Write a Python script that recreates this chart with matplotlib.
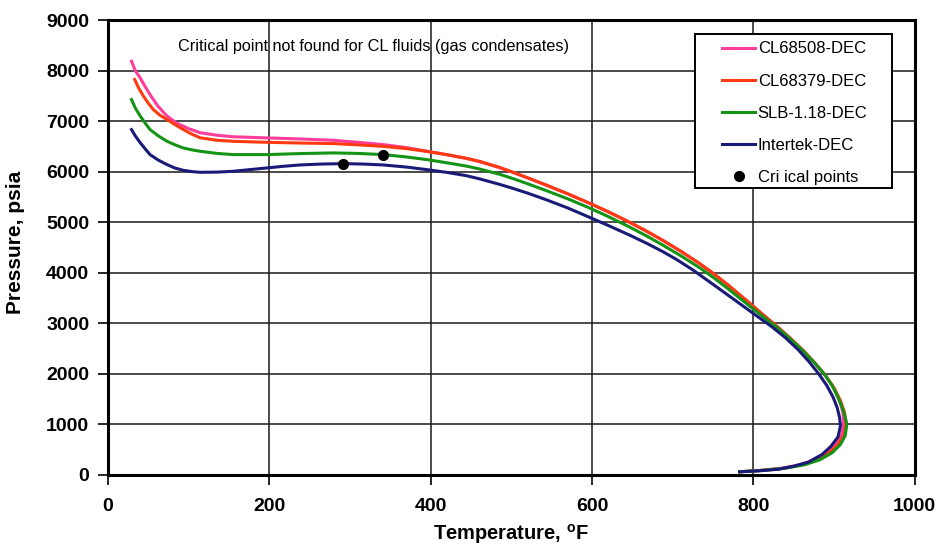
import matplotlib.pyplot as plt
from matplotlib.patches import Rectangle

plt.rcParams['font.family'] = ['Liberation Sans', 'DejaVu Sans']
plt.rcParams['mathtext.fontset'] = 'custom'
plt.rcParams['mathtext.rm'] = 'Liberation Sans'
plt.rcParams['mathtext.bf'] = 'Liberation Sans:bold'

# phase envelopes: temperature (F), pressure (psia)
cl68508_t = [29, 34, 40, 46, 52, 62, 73, 85, 100, 114, 135, 155, 197, 240, 279, 310, 341, 370, 395, 420,
             444, 461, 486, 502, 520, 543, 570, 597, 620, 646, 668, 688, 710, 733, 752, 770, 795, 812,
             830, 846, 862, 876, 889, 900, 907, 911, 912, 910, 903, 893, 877, 858, 835, 810, 783]
cl68508_p = [8185, 7990, 7850, 7680, 7525, 7290, 7100, 6960, 6850, 6770, 6720, 6690, 6667, 6645, 6620, 6580, 6535, 6475, 6405, 6335,
             6262, 6197, 6077, 5985, 5876, 5733, 5558, 5372, 5204, 5001, 4816, 4636, 4423, 4184, 3964, 3737, 3402, 3167,
             2927, 2697, 2457, 2217, 1972, 1717, 1467, 1240, 1020, 820, 620, 450, 300, 200, 130, 90, 60]

cl68379_t = [33, 38, 44, 50, 56, 64, 73, 83, 93, 104, 114, 135, 155, 197, 240, 279, 310, 341, 370, 395, 420,
             444, 461, 486, 502, 520, 543, 570, 597, 620, 646, 668, 688, 710, 733, 752, 770, 795, 812,
             830, 846, 862, 876, 889, 900, 908, 913, 915, 913, 905, 894, 877, 858, 835, 810, 783]
cl68379_p = [7822, 7650, 7490, 7350, 7230, 7120, 7030, 6930, 6835, 6740, 6670, 6620, 6600, 6580, 6565, 6555, 6530, 6500, 6455, 6400, 6335,
             6265, 6200, 6080, 5987, 5879, 5736, 5561, 5375, 5207, 5004, 4819, 4639, 4426, 4187, 3967, 3740, 3405, 3170,
             2930, 2700, 2460, 2220, 1975, 1720, 1470, 1240, 1020, 800, 600, 430, 290, 190, 125, 85, 60]

slb_t = [29, 34, 40, 46, 52, 62, 73, 83, 93, 104, 114, 135, 155, 197, 238, 279, 310, 341, 370, 395, 420,
         444, 461, 486, 502, 520, 543, 570, 597, 620, 646, 668, 688, 710, 733, 752, 770, 795, 812,
         829, 845, 860, 875, 889, 898, 905, 911, 914, 916, 914, 908, 898, 883, 864, 839, 812, 783]
slb_p = [7426, 7250, 7096, 6960, 6832, 6710, 6601, 6530, 6469, 6430, 6403, 6360, 6337, 6337, 6357, 6370, 6360, 6337, 6290, 6238, 6175,
         6110, 6050, 5945, 5862, 5761, 5626, 5461, 5280, 5112, 4909, 4724, 4544, 4336, 4102, 3887, 3665, 3345, 3130,
         2920, 2700, 2480, 2230, 1975, 1760, 1533, 1300, 1133, 1000, 780, 600, 440, 300, 200, 130, 90, 60]

intertek_t = [29, 34, 40, 46, 52, 62, 73, 83, 93, 104, 114, 135, 155, 176, 197, 217, 238, 265, 291, 316, 341, 370, 395, 420,
              444, 461, 486, 502, 520, 543, 570, 597, 620, 646, 668, 688, 705, 725, 750, 770, 799, 823,
              840, 856, 869, 881, 891, 899, 904, 907, 908, 905, 896, 885, 868, 850, 831, 808, 783]
intertek_p = [6832, 6700, 6568, 6450, 6337, 6230, 6139, 6070, 6027, 6000, 5987, 5990, 6007, 6040, 6073, 6105, 6132, 6150, 6158, 6150, 6132, 6090, 6040, 5985,
              5920, 5855, 5745, 5668, 5575, 5445, 5280, 5095, 4935, 4748, 4580, 4415, 4260, 4055, 3770, 3540, 3205, 2930,
              2710, 2470, 2240, 2000, 1770, 1533, 1330, 1133, 967, 750, 560, 400, 250, 170, 110, 80, 60]

# critical points
crit_t = [291, 341]
crit_p = [6158, 6337]

fig, ax = plt.subplots(figsize=(9.4, 5.56), dpi=100)
fig.subplots_adjust(left=0.115, right=0.973, top=0.964, bottom=0.146)

ax.plot(cl68508_t, cl68508_p, color='#ff3d9a', linewidth=2.2, label='CL68508-DEC')
ax.plot(cl68379_t, cl68379_p, color='#ff3a10', linewidth=2.2, label='CL68379-DEC')
ax.plot(slb_t, slb_p, color='#149414', linewidth=2.2, label='SLB-1.18-DEC')
ax.plot(intertek_t, intertek_p, color='#1a1a78', linewidth=2.2, label='Intertek-DEC')
ax.plot(crit_t, crit_p, 'o', color='black', markersize=7, label='Cri ical points', zorder=5)

ax.set_xlim(0, 1000)
ax.set_ylim(0, 9000)
ax.set_xticks(range(0, 1001, 200))
ax.set_yticks(range(0, 9001, 1000))
ax.grid(True, color='#1a1a1a', linewidth=1.1)
for s in ax.spines.values():
    s.set_linewidth(2.2)
ax.tick_params(direction='out', length=7, width=1.2, labelsize=14)
ax.tick_params(axis='x', pad=10)
ax.tick_params(axis='y', pad=6.5)
for lbl in ax.get_xticklabels() + ax.get_yticklabels():
    lbl.set_fontweight('bold')

ax.set_xlabel('Temperature, $^{\\mathbf{o}}$F', fontsize=14.5, fontweight='bold')
ax.set_ylabel('Pressure, psia', fontsize=15, fontweight='bold')
ax.xaxis.set_label_coords(0.5, -0.104)
ax.yaxis.set_label_coords(-0.103, 0.51)

ax.text(0.0867, 0.9407, 'Critical point not found for CL fluids (gas condensates)',
        transform=ax.transAxes, fontsize=11.7, va='center', ha='left')

# legend box
ax.add_patch(Rectangle((0.7274, 0.6308), 0.2441, 0.3384, transform=ax.transAxes,
                       facecolor='white', edgecolor='black', linewidth=1.4, zorder=4, clip_on=False))
leg = ax.legend(loc='upper left', bbox_to_anchor=(0.761, 0.953), fontsize=12, frameon=False,
                handlelength=2.0, handletextpad=0.15, labelspacing=1.03, borderpad=0, borderaxespad=0)
leg.set_zorder(6)

fig.savefig('out.png', dpi=100)
